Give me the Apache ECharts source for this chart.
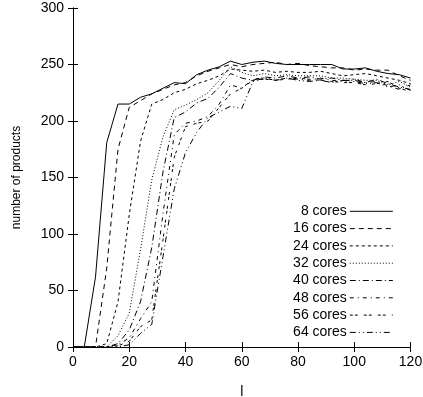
<!DOCTYPE html>
<html><head><meta charset="utf-8">
<script src="https://cdn.jsdelivr.net/npm/echarts@6/dist/echarts.min.js"></script>
<style>html,body{margin:0;padding:0;background:#fff}#c{width:423px;height:397px}</style>
</head><body><div id="c"></div>
<script>
const xs = [0,4,8,12,16,20,24,28,32,36,40,44,48,52,56,60,64,68,72,76,80,84,88,92,96,100,104,108,112,116,120];
const names = ['8 cores','16 cores','24 cores','32 cores','40 cores','48 cores','56 cores','64 cores'];
const c8  = [0,0,62,181,215,215,221,224,229,234,233,241,245,248,253,250,252,253,251,250,250,250,250,250,246,246,247,244,242,241,238];
const c16 = [0,0,0,70,175,212,218,224,228,232,234,240,244,247,250,248,250,251,252,250,251,249,248,247,247,245,246,245,245,240,236];
const c24 = [0,0,0,3,40,117,182,215,219,225,228,233,236,240,246,245,244,245,243,244,243,243,244,242,240,241,242,240,238,236,233];
const c32 = [0,0,0,0,10,30,86,148,186,210,214,219,225,236,248,243,240,242,240,241,240,240,240,238,238,237,236,236,232,235,230];
const c40 = [0,0,0,0,3,15,40,88,155,203,208,216,220,230,242,238,236,239,238,240,238,239,237,238,236,236,234,237,233,230,228];
const c48 = [0,0,0,0,2,8,25,40,118,188,198,200,204,215,232,229,237,238,236,238,237,236,238,236,235,237,234,235,231,228,232];
const c56 = [0,0,0,0,1,5,18,24,95,168,195,198,200,212,224,229,236,237,236,237,238,237,236,235,234,234,232,233,235,229,226];
const c64 = [0,0,0,0,0,2,12,20,80,140,172,190,203,208,213,211,235,238,236,238,236,235,236,234,236,235,233,234,230,232,227];
const yTicks = [0,50,100,150,200,250,300];
const xTicks = [0,20,40,60,80,100,120];

const vals = [c8,c16,c24,c32,c40,c48,c56,c64];
const dashes = ['solid',[5,4],[3,3],[1,2],[6,3,1,3],[4,4,1,4],[3,2,3,6],[6,3,1,3,1,3]];
const font = 'Liberation Sans';
const chart = echarts.init(document.getElementById('c'), null, {renderer:'canvas'});
const axLine = {show:true, lineStyle:{color:'#000', width:1}};
const tick = {show:true, inside:true, length:5, lineStyle:{color:'#000', width:1}};
chart.setOption({
  animation:false,
  backgroundColor:'#fff',
  textStyle:{fontFamily:font},
  grid:{left:73, right:12.5, top:8, bottom:50, containLabel:false, outerBoundsMode:'none'},
  legend:{
    orient:'vertical', right:29.7, top:204.3, align:'right',
    itemWidth:43, itemHeight:14, itemGap:3.3, padding:0,
    itemStyle:{color:'rgba(0,0,0,0)', borderWidth:0, opacity:0},
    lineStyle:{width:1},
    textStyle:{fontFamily:font, fontSize:14, color:'#000', padding:[0,-2,0,0]},
    data:names
  },
  xAxis:[{
    type:'value', min:0, max:120, interval:20, position:'bottom',
    name:'l', nameLocation:'middle', nameGap:38,
    nameTextStyle:{fontFamily:font, fontSize:14, color:'#000'},
    axisLine:axLine, axisTick:tick,
    axisLabel:{color:'#000', fontSize:14, fontFamily:font, margin:8, formatter:v=>xTicks.includes(v)?String(v):''},
    splitLine:{show:false}
  },{
    type:'value', min:0, max:120, interval:20, position:'top',
    axisLine:axLine, axisTick:tick,
    axisLabel:{show:false}, splitLine:{show:false}
  }],
  yAxis:[{
    type:'value', min:0, max:300, interval:50, position:'left',
    name:'number of products', nameLocation:'middle', nameGap:50, nameRotate:90,
    nameTextStyle:{fontFamily:font, fontSize:12, color:'#000'},
    axisLine:axLine, axisTick:tick,
    axisLabel:{color:'#000', fontSize:14, fontFamily:font, margin:9, formatter:v=>yTicks.includes(v)?String(v):''},
    splitLine:{show:false}
  },{
    type:'value', min:0, max:300, interval:50, position:'right',
    axisLine:axLine, axisTick:tick,
    axisLabel:{show:false}, splitLine:{show:false}
  }],
  series: names.map((n,i)=>({
    name:n, type:'line', symbol:'none', showSymbol:false,
    data: xs.map((x,j)=>[x, vals[i][j]]),
    itemStyle:{color:'#000'},
    lineStyle:{color:'#000', width:1, type:dashes[i]}
  }))
});
</script></body></html>
